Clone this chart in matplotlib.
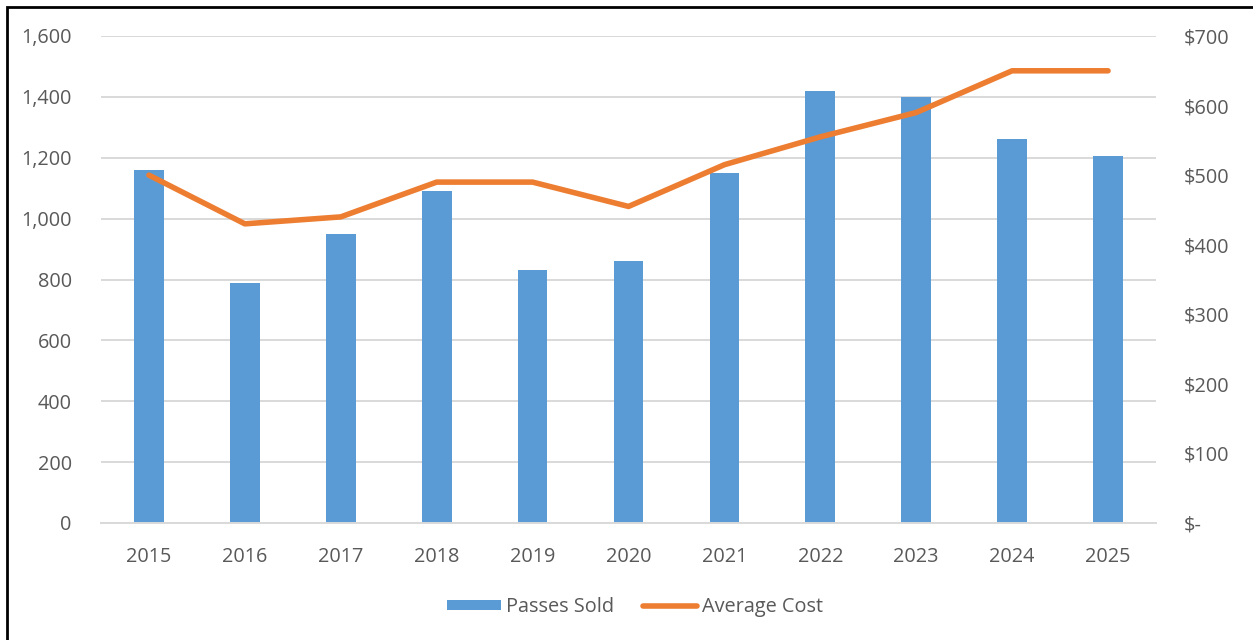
import matplotlib.pyplot as plt
from matplotlib.patches import Rectangle
from matplotlib.ticker import FuncFormatter

years = ['2015', '2016', '2017', '2018', '2019', '2020', '2021', '2022', '2023', '2024', '2025']
passes_sold = [1160, 790, 950, 1090, 830, 860, 1150, 1420, 1400, 1260, 1205]
avg_cost = [500, 430, 440, 490, 490, 455, 515, 555, 590, 650, 650]

plt.rcParams['font.family'] = ['Open Sans', 'DejaVu Sans']
txt = '#595959'
fs = 14.3

fig = plt.figure(figsize=(12.53, 6.4), dpi=100)
W, H = 1253, 640
ax = fig.add_axes([101 / W, 1 - 523 / H, (1156 - 101) / W, (523 - 36) / H])
ax2 = ax.twinx()

x = list(range(len(years)))
ax.bar(x, passes_sold, width=0.31, color='#5b9bd5', label='Passes Sold', zorder=2)
ax2.plot(x, avg_cost, color='#ed7d31', lw=4, solid_capstyle='round', solid_joinstyle='round',
         label='Average Cost', zorder=3)

ax.set_xlim(-0.5, len(years) - 0.5)
ax.set_ylim(0, 1600)
ax.set_yticks(range(0, 1601, 200))
ax.yaxis.set_major_formatter(FuncFormatter(lambda v, p: f'{int(v):,}'))
ax2.set_ylim(0, 700)
ax2.set_yticks(range(0, 701, 100))
ax2.yaxis.set_major_formatter(FuncFormatter(lambda v, p: '$-' if v == 0 else f'${int(v)}'))
ax.set_xticks(x)
ax.set_xticklabels(years)

ax.grid(axis='y', color='#d9d9d9', lw=1.4, zorder=0)
ax.set_axisbelow(True)
for a in (ax, ax2):
    for s in a.spines.values():
        s.set_visible(False)
    a.tick_params(length=0, labelsize=fs, colors=txt)
ax.spines['bottom'].set_visible(True)
ax.spines['bottom'].set_color('#d9d9d9')
ax.spines['bottom'].set_linewidth(1.4)
ax.tick_params(axis='y', pad=21)
ax.tick_params(axis='x', pad=17)
ax2.tick_params(axis='y', pad=20)

h1, l1 = ax.get_legend_handles_labels()
h2, l2 = ax2.get_legend_handles_labels()
fig.legend(h1 + h2, l1 + l2, loc='center', bbox_to_anchor=(635 / W, 1 - 607 / H), ncol=2,
           frameon=False, fontsize=fs, labelcolor=txt, handlelength=2.7, handleheight=0.45,
           handletextpad=0.25, columnspacing=1.5)

fig.patches.append(Rectangle((7 / W, -0.01), 1.02, 1 - 7 / H + 0.01, transform=fig.transFigure,
                             fill=False, edgecolor='black', lw=2))

fig.savefig('out.png', dpi=100)
